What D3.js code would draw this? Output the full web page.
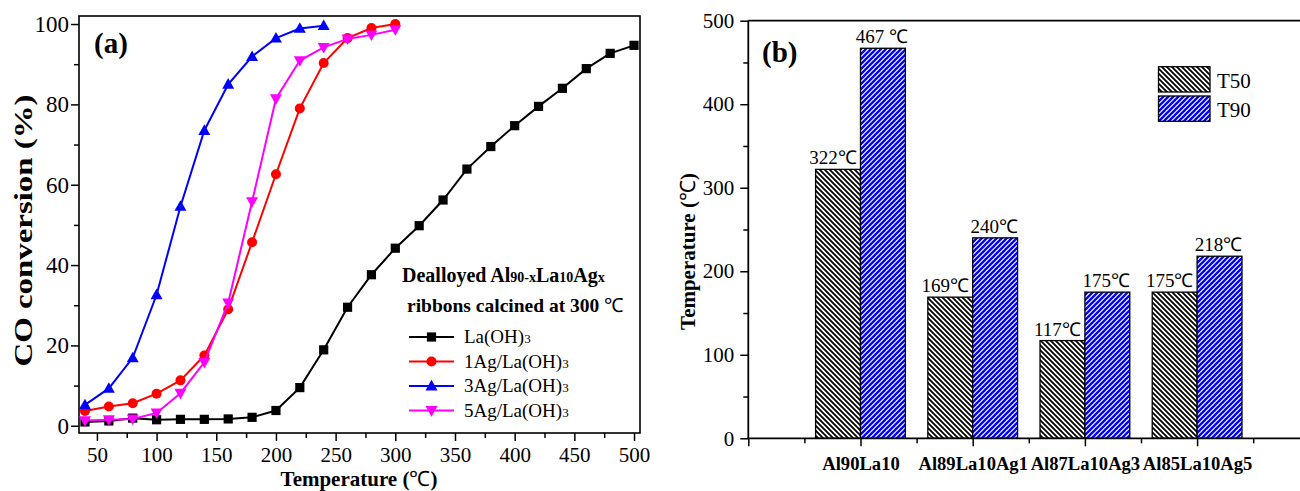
<!DOCTYPE html>
<html><head><meta charset="utf-8">
<script src="https://cdn.jsdelivr.net/npm/d3@7"></script>
<style>
body{margin:0;background:#fff;}
svg{display:block;font-family:"Liberation Serif","Times New Roman",serif;}
</style></head><body>
<svg id="c" width="1300" height="491"></svg>
<script>
// ---------- Panel (a) data ----------
const tempsLa = [40,60,80,100,120,140,160,180,200,220,240,260,280,300,320,340,360,380,400,420,440,460,480,500];
const convLa  = [0.95,1.2,1.9,1.5,1.6,1.6,1.7,2.1,3.8,9.5,18.9,29.5,37.6,44.2,49.8,56.2,63.9,69.5,74.7,79.5,84.0,88.9,92.7,94.7];
const temps1Ag = [40,60,80,100,120,140,160,180,200,220,240,260,280,300];
const conv1Ag  = [3.7,4.8,5.6,8.0,11.3,17.5,29.0,45.7,62.6,79.0,90.3,96.5,99.0,100.0];
const temps3Ag = [40,60,80,100,120,140,160,180,200,220,240];
const conv3Ag  = [5.2,9.3,16.9,32.6,54.6,73.5,85.0,91.9,96.5,98.9,99.6];
const temps5Ag = [40,60,80,100,120,140,160,180,200,220,240,260,280,300];
const conv5Ag  = [1.3,1.5,1.7,3.2,8.1,15.8,30.6,55.8,81.4,90.9,94.2,96.3,97.3,98.6];
const seriesNames = ["La(OH)","1Ag/La(OH)","3Ag/La(OH)","5Ag/La(OH)"];
const xTicksA = [50,100,150,200,250,300,350,400,450,500];
const yTicksA = [0,20,40,60,80,100];

// ---------- Panel (b) data ----------
const alloys = ["Al90La10","Al89La10Ag1","Al87La10Ag3","Al85La10Ag5"];
const T50 = [322,169,117,175];
const T90 = [467,240,175,218];
const T50Labels = ["322℃","169℃","117℃","175℃"];
const T90Labels = ["467 ℃","240℃","175℃","218℃"];
const yTicksB = [0,100,200,300,400,500];

const svg = d3.select("#c");
const defs = svg.append("defs");

const p50 = defs.append("pattern").attr("id","h50").attr("patternUnits","userSpaceOnUse").attr("width",5).attr("height",5);
p50.append("rect").attr("width",5).attr("height",5).attr("fill","#fff");
p50.append("path").attr("d","M0,0L5,5M-1,4L1,6M4,-1L6,1").attr("stroke","#000").attr("stroke-width",1.8);
const p90 = defs.append("pattern").attr("id","h90").attr("patternUnits","userSpaceOnUse").attr("width",5).attr("height",5);
p90.append("rect").attr("width",5).attr("height",5).attr("fill","#fff");
p90.append("path").attr("d","M0,5L5,0M-1,1L1,-1M4,6L6,4").attr("stroke","#0000ff").attr("stroke-width",2.3);

function titleWithDeg(sel, before, after){
  sel.append("tspan").text(before);
  sel.append("tspan").attr("font-weight","normal").text("℃");
  sel.append("tspan").text(after);
}

// ================= Panel (a) =================
const A = {l:79, r:640, t:16, b:433};
const xA = d3.scaleLinear().domain([35,505]).range([A.l,A.r]);
const yA = d3.scaleLinear().domain([-1.8,102]).range([A.b,A.t]);
const gA = svg.append("g");

gA.append("rect").attr("x",A.l).attr("y",A.t).attr("width",A.r-A.l).attr("height",A.b-A.t)
  .attr("fill","none").attr("stroke","#000").attr("stroke-width",1.6);

const gxA = gA.append("g").attr("transform",`translate(0,${A.b})`)
  .call(d3.axisBottom(xA).tickValues(xTicksA).tickSize(8).tickPadding(6).tickFormat(d3.format("d")));
gA.append("g").attr("transform",`translate(0,${A.b})`)
  .call(d3.axisBottom(xA).tickValues(d3.range(75,500,50)).tickSize(5).tickFormat(""));
const gyA = gA.append("g").attr("transform",`translate(${A.l},0)`)
  .call(d3.axisLeft(yA).tickValues(yTicksA).tickSize(8).tickPadding(2));
gA.append("g").attr("transform",`translate(${A.l},0)`)
  .call(d3.axisLeft(yA).tickValues([10,30,50,70,90]).tickSize(5).tickFormat(""));
gA.selectAll(".domain").remove();
gA.selectAll(".tick line").attr("stroke","#000").attr("stroke-width",1.5);
gxA.selectAll(".tick text").attr("font-family","Liberation Serif").attr("font-size",21).attr("fill","#000");
gyA.selectAll(".tick text").attr("font-family","Liberation Serif").attr("font-size",23).attr("fill","#000");

const seriesA = [
  {x:tempsLa, y:convLa, color:"#000000", sym:"square"},
  {x:temps1Ag, y:conv1Ag, color:"#ff0000", sym:"circle"},
  {x:temps3Ag, y:conv3Ag, color:"#0000ff", sym:"up"},
  {x:temps5Ag, y:conv5Ag, color:"#ff00ff", sym:"down"}
];
function marker(g, sym, color){
  if(sym==="square") g.append("rect").attr("x",-4.6).attr("y",-4.6).attr("width",9.2).attr("height",9.2).attr("fill",color);
  else if(sym==="circle") g.append("circle").attr("r",5).attr("fill",color);
  else if(sym==="up") g.append("path").attr("d","M0,-6.2L6,4.4L-6,4.4Z").attr("fill",color);
  else g.append("path").attr("d","M0,6.2L6,-4.4L-6,-4.4Z").attr("fill",color);
}
const line = d3.line().x(d=>xA(d[0])).y(d=>yA(d[1]));
seriesA.forEach(s=>{
  const pts = s.x.map((t,i)=>[t,s.y[i]]);
  gA.append("path").datum(pts).attr("d",line).attr("fill","none").attr("stroke",s.color).attr("stroke-width",2);
  pts.forEach(p=>{
    const m = gA.append("g").attr("transform",`translate(${xA(p[0])},${yA(p[1])})`);
    marker(m,s.sym,s.color);
  });
});

gA.append("text").attr("x",94).attr("y",53).attr("font-size",29).attr("font-weight","bold").text("(a)");
gA.append("text").attr("transform",`translate(32,${(A.t+A.b)/2+6}) rotate(-90)`).attr("text-anchor","middle")
  .attr("font-size",25).attr("font-weight","bold")
  .attr("textLength",272).attr("lengthAdjust","spacingAndGlyphs").text("CO conversion (%)");
titleWithDeg(gA.append("text").attr("x",359).attr("y",486).attr("text-anchor","middle")
  .attr("font-size",21).attr("font-weight","bold"), "Temperature (", ")");

// legend (a)
const lt1 = gA.append("text").attr("x",402).attr("y",282).attr("font-size",20).attr("font-weight","bold");
lt1.append("tspan").text("Dealloyed Al");
lt1.append("tspan").attr("font-size",14).text("90-x");
lt1.append("tspan").text("La");
lt1.append("tspan").attr("font-size",14).text("10");
lt1.append("tspan").text("Ag");
lt1.append("tspan").attr("font-size",14).text("x");
titleWithDeg(gA.append("text").attr("x",407).attr("y",312).attr("font-size",19.5).attr("font-weight","bold"),
  "ribbons calcined at 300 ", "");
seriesA.forEach((s,i)=>{
  const yy = 337 + i*24.5;
  gA.append("line").attr("x1",409).attr("x2",454).attr("y1",yy).attr("y2",yy).attr("stroke",s.color).attr("stroke-width",2);
  const m = gA.append("g").attr("transform",`translate(431.5,${yy})`);
  marker(m,s.sym,s.color);
  const t = gA.append("text").attr("x",464).attr("y",yy+6).attr("font-size",19);
  t.append("tspan").text(seriesNames[i]);
  t.append("tspan").attr("font-size",13).text("3");
});

// ================= Panel (b) =================
const B = {l:748.3, r:1309.3, t:20.7, b:438.3};
const xB = d3.scaleLinear().domain([0,5]).range([B.l,B.r]);
const yB = d3.scaleLinear().domain([0,500]).range([B.b,B.t]);
const gB = svg.append("g");
const bw = 0.4;

alloys.forEach((a,i)=>{
  const c = i+1;
  gB.append("rect").attr("x",xB(c-bw)).attr("y",yB(T50[i])).attr("width",xB(c)-xB(c-bw)).attr("height",yB(0)-yB(T50[i]))
    .attr("fill","url(#h50)").attr("stroke","#000").attr("stroke-width",1.3);
  gB.append("rect").attr("x",xB(c)).attr("y",yB(T90[i])).attr("width",xB(c+bw)-xB(c)).attr("height",yB(0)-yB(T90[i]))
    .attr("fill","url(#h90)").attr("stroke","#000").attr("stroke-width",1.3);
  gB.append("text").attr("x",(xB(c-bw)+xB(c))/2-5).attr("y",yB(T50[i])-5).attr("text-anchor","middle")
    .attr("font-size",19).text(T50Labels[i]);
  gB.append("text").attr("x",(xB(c)+xB(c+bw))/2-1).attr("y",yB(T90[i])-5).attr("text-anchor","middle")
    .attr("font-size",19).text(T90Labels[i]);
});

const gxB = gB.append("g").attr("transform",`translate(0,${B.b})`)
  .call(d3.axisBottom(xB).tickValues([0,1,2,3,4]).tickSize(8).tickPadding(10).tickFormat(d=>d>=1?alloys[d-1]:""));
gB.append("g").attr("transform",`translate(0,${B.b})`)
  .call(d3.axisBottom(xB).tickValues([0.5,1.5,2.5,3.5,4.5]).tickSize(5).tickFormat(""));
const gyB = gB.append("g").attr("transform",`translate(${B.l},0)`)
  .call(d3.axisLeft(yB).tickValues(yTicksB).tickSize(8).tickPadding(6));
gB.append("g").attr("transform",`translate(${B.l},0)`)
  .call(d3.axisLeft(yB).tickValues([50,150,250,350,450]).tickSize(5).tickFormat(""));
gB.selectAll(".domain").remove();
gB.selectAll(".tick line").attr("stroke","#000").attr("stroke-width",1.5);
gyB.selectAll(".tick text").attr("font-family","Liberation Serif").attr("font-size",21).attr("fill","#000");
gxB.selectAll(".tick text").attr("font-family","Liberation Serif").attr("font-size",18.6).attr("font-weight","bold").attr("fill","#000");
gB.append("line").attr("x1",B.l).attr("x2",B.r).attr("y1",B.b).attr("y2",B.b).attr("stroke","#000").attr("stroke-width",1.8);
gB.append("line").attr("x1",B.l).attr("x2",B.r).attr("y1",B.t).attr("y2",B.t).attr("stroke","#000").attr("stroke-width",1.8);
gB.append("line").attr("x1",B.l).attr("x2",B.l).attr("y1",B.t).attr("y2",B.b).attr("stroke","#000").attr("stroke-width",1.8);

gB.append("text").attr("x",762).attr("y",62).attr("font-size",29).attr("font-weight","bold").text("(b)");
titleWithDeg(gB.append("text").attr("transform",`translate(695,${(B.t+B.b)/2+22}) rotate(-90)`).attr("text-anchor","middle")
  .attr("font-size",21).attr("font-weight","bold"), "Temperature (", ")");

[["T50","url(#h50)"],["T90","url(#h90)"]].forEach((d,i)=>{
  const y0 = 66.7 + i*29.3;
  gB.append("rect").attr("x",1158.5).attr("y",y0).attr("width",51.5).attr("height",25.3)
    .attr("fill",d[1]).attr("stroke","#000").attr("stroke-width",1.3);
  gB.append("text").attr("x",1217).attr("y",y0+21).attr("font-size",21).text(d[0]);
});
</script>
</body></html>
